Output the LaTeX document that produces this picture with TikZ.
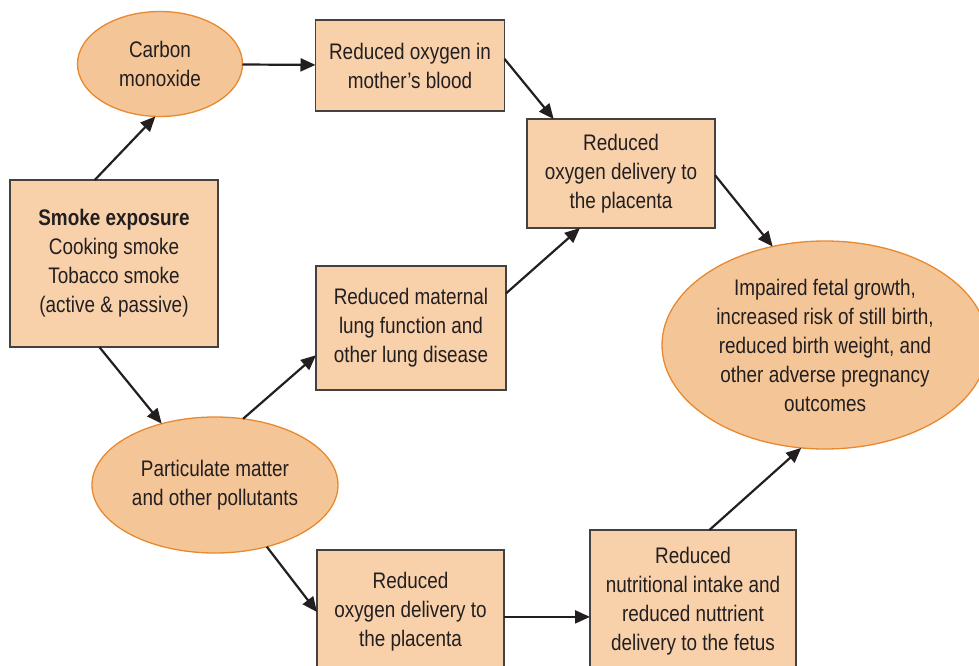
\documentclass[tikz,border=0pt]{standalone}
\usepackage{fontspec}
\setmainfont{Liberation Sans}[FakeStretch=0.84]
\usetikzlibrary{shapes.geometric,arrows.meta}
\definecolor{boxfill}{HTML}{F8D1AB}
\definecolor{ovalfill}{HTML}{F4C597}
\definecolor{ovaldraw}{HTML}{E8892F}
\definecolor{inkdark}{HTML}{231F20}

\begin{document}
\begin{tikzpicture}[x=1pt,y=-1pt,inner sep=0pt,outer sep=0pt,
font=\fontsize{22.5}{29}\selectfont,text=inkdark,
effbox/.style={draw=inkdark!85,fill=boxfill,rectangle,line width=1.4pt,align=center},
agent/.style={draw=ovaldraw,fill=ovalfill,ellipse,line width=1.3pt,align=center},
link/.style={draw=inkdark,line width=2.2pt,-{Triangle[length=15pt,width=13pt]}}]

\useasboundingbox (0,0) rectangle (979,666);

\draw (160,64) node[agent,minimum width=165pt,minimum height=105pt] (carbon) {Carbon\\monoxide};
\draw (410,65.5) node[effbox,minimum width=189pt,minimum height=91pt] (mother) {Reduced oxygen in\\mother’s blood};
\draw (114,263.5) node[effbox,minimum width=208pt,minimum height=167pt] (smoke) {\textbf{Smoke exposure}\\Cooking smoke\\Tobacco smoke\\(active \& passive)};
\draw (621,173.5) node[effbox,minimum width=188pt,minimum height=109pt] (plac) {Reduced\\oxygen delivery to\\the placenta};
\draw (411,328) node[effbox,minimum width=190pt,minimum height=124pt] (lung) {Reduced maternal\\lung function and\\other lung disease};
\draw (825,345) node[agent,minimum width=326pt,minimum height=208pt] (outcome) {Impaired fetal growth,\\increased risk of still birth,\\reduced birth weight, and\\other adverse pregnancy\\outcomes};
\draw (215,485) node[agent,minimum width=246pt,minimum height=136pt] (pm) {Particulate matter\\and other pollutants};
\draw (410.5,612) node[effbox,minimum width=187pt,minimum height=124pt] (oxy) {Reduced\\oxygen delivery to\\the placenta};
\draw (693,601) node[effbox,minimum width=206pt,minimum height=142pt] (nutri) {Reduced\\nutritional intake and\\reduced nuttrient\\delivery to the fetus};

\draw[link] (smoke.103) -- (carbon.265);
\draw[link] (carbon) -- (mother);
\draw[link] (mother.4) -- (plac.141);
\draw[link] (lung.20) -- (plac.233);
\draw[link] (plac.359) -- (outcome.118);
\draw[link] (smoke.260) -- (pm.131);
\draw[link] (pm.67) -- (lung.196);
\draw[link] (pm.310) -- (oxy.west);
\draw[link] (oxy.357) -- (oxy.357 -| nutri.west);
\draw[link] (nutri.77) -- (outcome.257);
\end{tikzpicture}
\end{document}
